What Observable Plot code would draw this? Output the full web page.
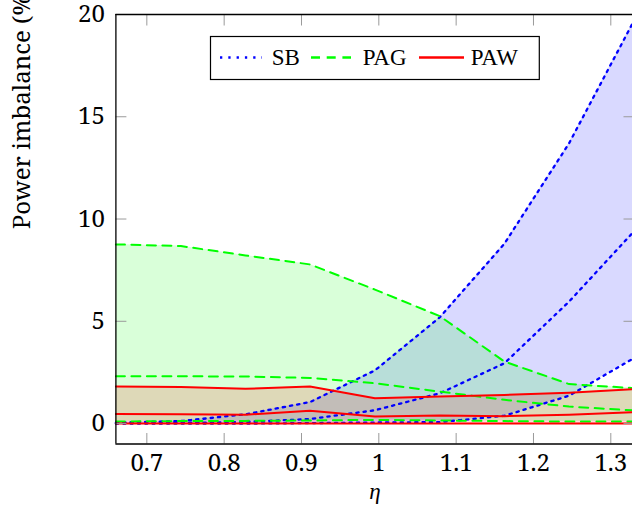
<!DOCTYPE html>
<html><head><meta charset="utf-8">
<script src="https://cdn.jsdelivr.net/npm/d3@7"></script>
<script src="https://cdn.jsdelivr.net/npm/@observablehq/plot@0.6"></script>
<style>
body{margin:0;font-family:'Noto Serif',serif;}
#wrap{position:relative;width:632px;height:514px;}
#legend{position:absolute;left:0;top:0;}
</style></head><body>
<div id="wrap"></div>
<script>
// ---- data ----
const eta = [0.66, 0.744, 0.8275, 0.911, 0.995, 1.079, 1.1625, 1.246, 1.33];
const sbUpper  = [0.05, 0.12, 0.45, 1.05, 2.6, 5.2, 8.8, 13.7, 19.7];
const sbMiddle = [0.02, 0.03, 0.08, 0.22, 0.65, 1.48, 2.95, 5.96, 9.4];
const sbLower  = [0.0, 0.0, 0.0, 0.02, 0.05, 0.07, 0.38, 1.36, 3.2];
const pagUpper  = [8.76, 8.68, 8.22, 7.78, 6.55, 5.25, 3.03, 1.93, 1.73];
const pagMiddle = [2.31, 2.31, 2.3, 2.23, 1.97, 1.56, 1.16, 0.83, 0.64];
const pagLower  = [0.1, 0.12, 0.13, 0.15, 0.18, 0.15, 0.12, 0.1, 0.1];
const pawUpper  = [1.81, 1.79, 1.70, 1.81, 1.24, 1.32, 1.40, 1.51, 1.68];
const pawMiddle = [0.47, 0.46, 0.43, 0.62, 0.34, 0.39, 0.36, 0.43, 0.56];
const pawLower  = [0.0, 0.0, 0.0, 0.0, 0.0, 0.0, 0.0, 0.0, 0.0];
const xTicks = [0.7, 0.8, 0.9, 1.0, 1.1, 1.2, 1.3];
const xTickLabels = ["0.7", "0.8", "0.9", "1", "1.1", "1.2", "1.3"];
const yTicks = [0, 5, 10, 15, 20];
const yTickLabels = ["0", "5", "10", "15", "20"];
const xDomain = [0.66, 1.33];
const yDomain = [-1, 20];
const seriesNames = ["SB", "PAG", "PAW"];
const xLabel = "η";
const yLabel = "Power imbalance (%)";

// ---- styling ----
const colors = {SB: "#0000ff", PAG: "#00ff00", PAW: "#ff0000"};
const dashes = {SB: "2.3,5", PAG: "9,6.5", PAW: null};
const widths = {SB: 2.3, PAG: 2, PAW: 2};
const legendDashes = {SB: "2.3,6", PAG: "9,6.7", PAW: null};
const tickFont = "Noto Serif";
const textFont = "Liberation Serif";

const rows = eta.map((x, i) => ({
  x,
  SB: [sbLower[i], sbMiddle[i], sbUpper[i]],
  PAG: [pagLower[i], pagMiddle[i], pagUpper[i]],
  PAW: [pawLower[i], pawMiddle[i], pawUpper[i]]
}));

const areas = seriesNames.map(s => Plot.areaY(rows, {
  x: "x", y1: d => d[s][0], y2: d => d[s][2],
  fill: colors[s], fillOpacity: 0.15
}));
const lines = [];
for (const s of seriesNames) {
  for (let k = 0; k < 3; k++) {
    lines.push(Plot.lineY(rows, {
      x: "x", y: d => d[s][k], stroke: colors[s], strokeWidth: widths[s],
      strokeDasharray: dashes[s], curve: "linear"
    }));
  }
}

const chart = Plot.plot({
  width: 632, height: 514,
  marginLeft: 115.4, marginRight: -1.5, marginTop: 14, marginBottom: 70.5,
  style: {fontFamily: tickFont, fontSize: "24px", background: "white", color: "black", overflow: "hidden"},
  x: {domain: xDomain},
  y: {domain: yDomain},
  marks: [
    ...areas,
    ...lines,
    Plot.axisX({anchor: "bottom", ticks: xTicks, tickSize: -10.5, tickPadding: 20,
      stroke: "#9a9a9a", fill: "black", fontSize: 24, fontFamily: tickFont,
      tickFormat: (d, i) => xTickLabels[i], label: null}),
    Plot.axisX({anchor: "top", ticks: xTicks, tickSize: -10.5,
      stroke: "#9a9a9a", tickFormat: () => "", label: null}),
    Plot.axisY({anchor: "left", ticks: yTicks, tickSize: -11, tickPadding: 22,
      stroke: "#9a9a9a", fill: "black", fontSize: 24, fontFamily: tickFont,
      tickFormat: (d, i) => yTickLabels[i], label: null}),
    Plot.axisY({anchor: "right", ticks: yTicks, tickSize: -11,
      stroke: "#9a9a9a", tickFormat: () => "", label: null}),
    Plot.ruleY([yDomain[0], yDomain[1]], {stroke: "black", strokeWidth: 1.3}),
    Plot.ruleX([xDomain[0]], {stroke: "black", strokeWidth: 1.3}),
    Plot.text([yLabel], {text: d => d, frameAnchor: "left", dx: -93.4, rotate: -90,
      fontSize: 24, fill: "black", fontFamily: tickFont}),
    Plot.text([xLabel], {text: d => d, frameAnchor: "bottom", dy: 55,
      fontSize: 23, fontStyle: "italic", fill: "black", fontFamily: textFont})
  ]
});
const wrap = document.getElementById("wrap");
wrap.appendChild(chart);

// ---- legend (overlay) ----
const lx = [10, 101, 209];
const lw = [42, 40, 45];
const tx = [61.7, 152.7, 260.7];
const ns = "http://www.w3.org/2000/svg";
const leg = document.createElementNS(ns, "svg");
leg.setAttribute("id", "legend");
leg.setAttribute("width", 560);
leg.setAttribute("height", 100);
const g = document.createElementNS(ns, "g");
g.setAttribute("transform", "translate(210,36)");
leg.appendChild(g);
const box = document.createElementNS(ns, "rect");
box.setAttribute("x", 0.5); box.setAttribute("y", 0.5);
box.setAttribute("width", 328.8); box.setAttribute("height", 43);
box.setAttribute("fill", "white"); box.setAttribute("stroke", "black");
box.setAttribute("stroke-width", 1.2);
g.appendChild(box);
seriesNames.forEach((s, i) => {
  const l = document.createElementNS(ns, "line");
  l.setAttribute("x1", lx[i]); l.setAttribute("x2", lx[i] + lw[i]);
  l.setAttribute("y1", 21.5); l.setAttribute("y2", 21.5);
  l.setAttribute("stroke", colors[s]); l.setAttribute("stroke-width", 2.3);
  if (legendDashes[s]) l.setAttribute("stroke-dasharray", legendDashes[s]);
  g.appendChild(l);
  const t = document.createElementNS(ns, "text");
  t.setAttribute("x", tx[i]); t.setAttribute("y", 29.3);
  t.setAttribute("font-family", textFont); t.setAttribute("font-size", 23);
  t.setAttribute("fill", "black");
  t.textContent = s;
  g.appendChild(t);
});
wrap.appendChild(leg);
</script>
</body></html>
